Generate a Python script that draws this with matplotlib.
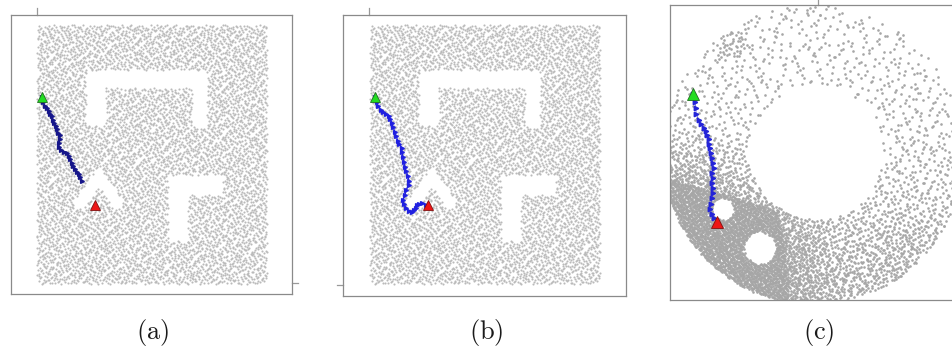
import numpy as np
import matplotlib
matplotlib.use("Agg")
import matplotlib.pyplot as plt
from matplotlib.path import Path

plt.rcParams['mathtext.fontset'] = 'cm'

# ---------------- data ----------------
# panels (a),(b): map coordinates, origin at top-left of sampled area, y downwards
map_size_ab = (230, 259)
obstacle_cap = [(49, 45), (170, 45), (170, 102), (155, 102), (155, 63), (69, 63), (69, 100), (49, 100)]
obstacle_gamma = [(131, 150), (186, 150), (186, 170), (151, 170), (151, 216), (131, 216)]
obstacle_chevron = [(62, 141), (86, 177), (79, 185), (62, 161), (45, 186), (36, 178)]
n_samples_ab = 7400

start_ab = (5, 72)
goal_ab = (58, 180)
path_a_x = [5, 6, 8, 10, 12, 13, 15, 16, 17, 19, 20, 21, 23, 23, 22, 22, 24, 27, 30, 32, 33, 35, 36, 38, 40, 42, 43, 45]
path_a_y = [72, 77, 81, 83, 86, 89, 91, 95, 98, 101, 104, 108, 110, 114, 118, 122, 125, 127, 128, 131, 134, 138, 141, 144, 147, 149, 152, 156]
path_b_x = [5, 7, 8, 11, 13, 16, 19, 20, 22, 23, 25, 26, 28, 29, 32, 32, 33, 34, 35, 36, 38, 39, 39, 36, 35, 33, 34, 36, 39, 42, 44, 46, 47, 49, 52, 56]
path_b_y = [72, 77, 81, 85, 87, 89, 91, 94, 98, 102, 107, 111, 116, 119, 123, 127, 132, 137, 142, 146, 151, 156, 160, 165, 170, 175, 179, 183, 186, 187, 185, 183, 180, 179, 178, 180]

# panel (c): centred coordinates, y upwards
disk_radius_c = 150
holes_c = [(3, 2, 67), (-90, -55, 11), (-53, -94, 16)]  # (x, y, r)
n_samples_c = 30000
dense_poly_c = [(-160, -20), (-35, -56), (-28, -90), (-24, -160), (-160, -160)]
density_grid_x_c = [-125, -89, -53, -17, 19, 55, 91, 127]
density_grid_y_c = [131, 95, 59, 23, -13, -49, -85, -121]
density_grid_c = [
    [0.06, 0.08, 0.06, 0.06, 0.06, 0.06, 0.06, 0.06],
    [0.06, 0.09, 0.06, 0.06, 0.06, 0.06, 0.06, 0.06],
    [0.07, 0.07, 0.07, 0.06, 0.06, 0.06, 0.07, 0.07],
    [0.10, 0.09, 0.08, 0.07, 0.06, 0.07, 0.08, 0.08],
    [0.35, 0.25, 0.12, 0.08, 0.08, 0.09, 0.11, 0.11],
    [0.70, 0.55, 0.35, 0.20, 0.12, 0.13, 0.15, 0.13],
    [0.80, 0.80, 0.70, 0.45, 0.25, 0.22, 0.28, 0.24],
    [0.80, 0.80, 0.75, 0.55, 0.32, 0.28, 0.30, 0.22],
]
blob_c = (-80, 110, 14)
blob_density_c = 0.22

start_c = (-120, 60)
goal_c = (-96, -68)
path_c_x = [-120, -118, -117, -117, -114, -112, -109, -107, -106, -104, -104, -103, -102, -101, -100, -99, -101, -100, -101, -100, -100, -101, -102, -103, -101, -99]
path_c_y = [60, 52, 46, 40, 34, 30, 26, 23, 19, 15, 10, 6, 1, -4, -9, -14, -19, -24, -29, -34, -39, -44, -50, -55, -60, -64]

labels = ['(a)', '(b)', '(c)']


# ---------------- helpers ----------------
def halton(n, base):
    out = np.zeros(n)
    for i in range(n):
        f, r, k = 1.0, 0.0, i + 1
        while k > 0:
            f /= base
            r += f * (k % base)
            k //= base
        out[i] = r
    return out


def grid_density(xs, ys, gx, gy, table):
    gx = np.asarray(gx, float)
    gy = np.asarray(gy, float)[::-1]
    T = np.asarray(table, float)[::-1]
    ix = np.clip(np.searchsorted(gx, xs) - 1, 0, len(gx) - 2)
    iy = np.clip(np.searchsorted(gy, ys) - 1, 0, len(gy) - 2)
    fx = np.clip((xs - gx[ix]) / (gx[ix + 1] - gx[ix]), 0, 1)
    fy = np.clip((ys - gy[iy]) / (gy[iy + 1] - gy[iy]), 0, 1)
    return (T[iy, ix] * (1 - fx) * (1 - fy) + T[iy, ix + 1] * fx * (1 - fy)
            + T[iy + 1, ix] * (1 - fx) * fy + T[iy + 1, ix + 1] * fx * fy)


W, H = 953, 354
fig = plt.figure(figsize=(W / 100, H / 100), dpi=100)


def add_axes_px(x0, y0, x1, y1):
    return fig.add_axes([x0 / W, 1 - y1 / H, (x1 - x0) / W, (y1 - y0) / H])


def style_frame(ax):
    ax.set_xticks([])
    ax.set_yticks([])
    for s in ax.spines.values():
        s.set_color('#8a8a8a')
        s.set_linewidth(0.9)


# samples for (a)/(b)
hx = halton(n_samples_ab, 2) * map_size_ab[0]
hy = halton(n_samples_ab, 3) * map_size_ab[1]
pts = np.column_stack([hx, hy])
free = np.ones(len(pts), bool)
for poly in (obstacle_cap, obstacle_gamma, obstacle_chevron):
    free &= ~Path(poly).contains_points(pts)
pts_ab = pts[free]

frames = [
    # frame px (x0, y0, x1, y1), cloud origin px
    ((11, 15, 292, 294), (37, 25)),
    ((343, 15, 626, 296), (370, 25)),
]
paths = [(path_a_x, path_a_y, '#16168a'), (path_b_x, path_b_y, '#2020e0')]
for i, ((x0, y0, x1, y1), (ox, oy)) in enumerate(frames):
    ax = add_axes_px(x0, y0, x1, y1)
    ax.set_xlim(x0 - ox, x1 - ox)
    ax.set_ylim(y1 - oy, y0 - oy)
    style_frame(ax)
    ax.scatter(pts_ab[:, 0], pts_ab[:, 1], s=2.3, c='#bababa', linewidths=0)
    px, py, col = paths[i]
    ax.plot(px, py, '-', color=col, lw=0.9, marker='>', ms=2.8, mec=col, mfc=col)
    ax.plot(*start_ab, '^', ms=7, mfc='#22dd22', mec='#207020', mew=0.6)
    ax.plot(*goal_ab, '^', ms=7, mfc='#ee1515', mec='#801010', mew=0.6)
    if i == 0:
        ax.plot([0, 0], [y0 - oy, y0 - oy - 7], color='#999999', lw=0.9, clip_on=False)
        ax.plot([x1 - ox, x1 - ox + 6], [258, 258], color='#999999', lw=0.9, clip_on=False)
    else:
        ax.plot([-1, -1], [y0 - oy, y0 - oy - 7], color='#999999', lw=0.9, clip_on=False)
        ax.plot([x0 - ox, x0 - ox - 6], [260, 260], color='#999999', lw=0.9, clip_on=False)

# panel (c)
cx = (halton(n_samples_c, 2) * 2 - 1) * disk_radius_c
cy = (halton(n_samples_c, 3) * 2 - 1) * disk_radius_c
cu = halton(n_samples_c, 5)
cp = np.column_stack([cx, cy])
inside = np.hypot(cx, cy) <= disk_radius_c
for (hxo, hyo, hr) in holes_c:
    inside &= np.hypot(cx - hxo, cy - hyo) > hr
dens = grid_density(cx, cy, density_grid_x_c, density_grid_y_c, density_grid_c)
in_blob = np.hypot(cx - blob_c[0], cy - blob_c[1]) < blob_c[2]
dens[in_blob] = np.maximum(dens[in_blob], blob_density_c)
dens[Path(dense_poly_c).contains_points(cp)] = 1.0
keep = inside & (cu < dens)

axc = add_axes_px(670, 5, 956, 300)
axc.set_xlim(670 - 813, 956 - 813)
axc.set_ylim(154 - 300, 154 - 5)
style_frame(axc)
axc.scatter(cx[keep], cy[keep], s=3.6, c='#a6a6a6', linewidths=0)
axc.plot(path_c_x, path_c_y, '-', color='#2424d8', lw=0.4, marker='>', ms=3.2,
         mec='#2424d8', mfc='#2424d8')
axc.plot(*start_c, '^', ms=9, mfc='#22dd22', mec='#207020', mew=0.6)
axc.plot(*goal_c, '^', ms=9, mfc='#ee1515', mec='#801010', mew=0.6)
axc.plot([5, 5], [149, 154], color='#999999', lw=0.9, clip_on=False)

label_x = [153, 486, 819]
for lx, lab in zip(label_x, labels):
    fig.text(lx / W, 1 - 332 / H, r'$(\mathrm{%s})$' % lab[1], ha='center', va='center',
             fontsize=19, color='#1a1a1a')

fig.savefig('out.png', dpi=100)
